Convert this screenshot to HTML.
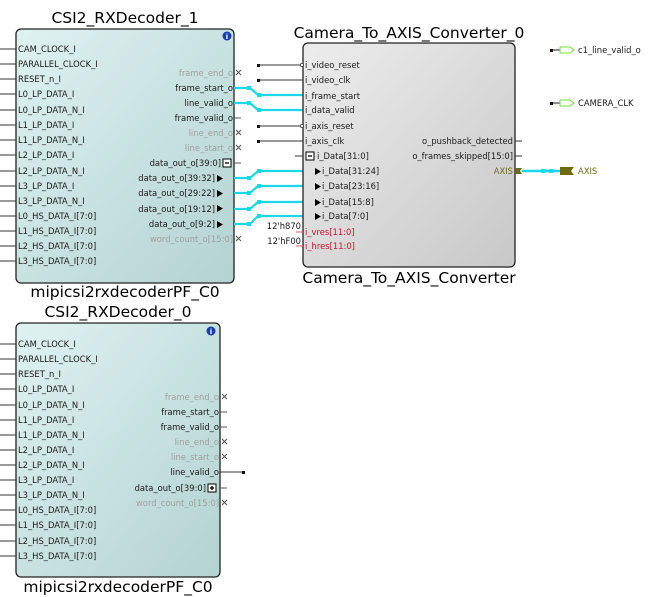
<!DOCTYPE html>
<html><head><style>
html,body{margin:0;padding:0;background:#fff;}
svg{display:block;}
text{font-family:"DejaVu Sans","Liberation Sans",sans-serif;font-size:8.4px;fill:#1a1a1a;}
.t{font-family:"DejaVu Sans","Liberation Sans",sans-serif;font-size:15.5px;fill:#000;}
.g{fill:#a0a0a0;}
.r{fill:#c8102e;}
</style></head><body>
<svg width="655" height="597" viewBox="0 0 655 597" xmlns="http://www.w3.org/2000/svg">
<defs>
<linearGradient id="gb" x1="0" y1="0" x2="1" y2="1"><stop offset="0" stop-color="#dff2f2"/><stop offset="1" stop-color="#b3d3d0"/></linearGradient>
<linearGradient id="gg" x1="0" y1="0" x2="1" y2="1"><stop offset="0" stop-color="#ededed"/><stop offset="1" stop-color="#c8c8c8"/></linearGradient>
</defs>

<!-- ===== Block 1 ===== -->
<text class="t" x="125" y="23" text-anchor="middle">CSI2_RXDecoder_1</text>
<rect x="16" y="29" width="218" height="254" rx="5" fill="url(#gb)" stroke="#222" stroke-width="1.3"/>
<circle cx="227" cy="36" r="4.5" fill="#1a3cb0"/><text x="227" y="39" text-anchor="middle" style="fill:#fff;font-size:7px;font-weight:bold">i</text>
<text class="t" x="125" y="297" text-anchor="middle">mipicsi2rxdecoderPF_C0</text>
<g stroke="#333" stroke-width="1">
<line x1="0" y1="49" x2="16" y2="49"/><line x1="0" y1="64" x2="16" y2="64"/><line x1="0" y1="79" x2="16" y2="79"/><line x1="0" y1="94" x2="16" y2="94"/><line x1="0" y1="110" x2="16" y2="110"/><line x1="0" y1="125" x2="16" y2="125"/><line x1="0" y1="140" x2="16" y2="140"/><line x1="0" y1="155" x2="16" y2="155"/><line x1="0" y1="171" x2="16" y2="171"/><line x1="0" y1="186" x2="16" y2="186"/><line x1="0" y1="201" x2="16" y2="201"/><line x1="0" y1="216" x2="16" y2="216"/><line x1="0" y1="231" x2="16" y2="231"/><line x1="0" y1="246" x2="16" y2="246"/><line x1="0" y1="261" x2="16" y2="261"/>
</g>
<g>
<text x="18" y="52">CAM_CLOCK_I</text><text x="18" y="67">PARALLEL_CLOCK_I</text><text x="18" y="82">RESET_n_I</text><text x="18" y="97">L0_LP_DATA_I</text><text x="18" y="113">L0_LP_DATA_N_I</text><text x="18" y="128">L1_LP_DATA_I</text><text x="18" y="143">L1_LP_DATA_N_I</text><text x="18" y="158">L2_LP_DATA_I</text><text x="18" y="174">L2_LP_DATA_N_I</text><text x="18" y="189">L3_LP_DATA_I</text><text x="18" y="204">L3_LP_DATA_N_I</text><text x="18" y="219">L0_HS_DATA_I[7:0]</text><text x="18" y="234">L1_HS_DATA_I[7:0]</text><text x="18" y="249">L2_HS_DATA_I[7:0]</text><text x="18" y="264">L3_HS_DATA_I[7:0]</text>
</g>
<g text-anchor="end">
<text class="g" x="233" y="76">frame_end_o</text>
<text x="233" y="91">frame_start_o</text>
<text x="233" y="106">line_valid_o</text>
<text x="233" y="121">frame_valid_o</text>
<text class="g" x="233" y="136">line_end_o</text>
<text class="g" x="233" y="151">line_start_o</text>
<text x="221" y="166">data_out_o[39:0]</text>
<text x="215" y="181">data_out_o[39:32]</text>
<text x="215" y="196">data_out_o[29:22]</text>
<text x="215" y="212">data_out_o[19:12]</text>
<text x="215" y="227">data_out_o[9:2]</text>
<text class="g" x="233" y="242">word_count_o[15:0]</text>
</g>
<rect x="223" y="159" width="8" height="8" fill="#fff" stroke="#000"/><line x1="225" y1="163" x2="229" y2="163" stroke="#000" stroke-width="1.3"/>
<g fill="#000"><path d="M217 175l6 3.5-6 3.5z"/><path d="M217 190l6 3.5-6 3.5z"/><path d="M217 205l6 3.5-6 3.5z"/><path d="M217 221l6 3.5-6 3.5z"/></g>
<g stroke="#555" stroke-width="1">
<path d="M236 70l5 5M241 70l-5 5"/><path d="M236 130l5 5M241 130l-5 5"/><path d="M236 145l5 5M241 145l-5 5"/><path d="M236 236l5 5M241 236l-5 5"/>
<line x1="234" y1="118" x2="241" y2="118"/><line x1="234" y1="163" x2="241" y2="163"/>
</g>
<!-- cyan nets -->
<g stroke="#19d8e8" stroke-width="2.2" fill="none">
<path d="M234 88H250L258 95H303"/><path d="M234 103H250L258 110H303"/>
<path d="M234 178H250L258 171H303"/><path d="M234 193H250L258 186H303"/><path d="M234 209H250L258 202H303"/><path d="M234 224H250L258 216H303"/>
</g>
<g fill="#19d8e8">
<rect x="247" y="86" width="4" height="4"/><rect x="257" y="93" width="4" height="4"/><rect x="247" y="101" width="4" height="4"/><rect x="257" y="108" width="4" height="4"/>
<rect x="247" y="176" width="4" height="4"/><rect x="257" y="169" width="4" height="4"/><rect x="247" y="191" width="4" height="4"/><rect x="257" y="184" width="4" height="4"/><rect x="247" y="207" width="4" height="4"/><rect x="257" y="200" width="4" height="4"/><rect x="247" y="222" width="4" height="4"/><rect x="257" y="214" width="4" height="4"/>
</g>

<!-- ===== Camera block ===== -->
<text class="t" x="409" y="38" text-anchor="middle">Camera_To_AXIS_Converter_0</text>
<rect x="303" y="43" width="212" height="224" rx="5" fill="url(#gg)" stroke="#222" stroke-width="1.3"/>
<text class="t" x="409" y="283" text-anchor="middle">Camera_To_AXIS_Converter</text>
<g stroke="#333" stroke-width="1">
<line x1="258" y1="65" x2="301" y2="65"/><line x1="258" y1="80" x2="303" y2="80"/><line x1="258" y1="126" x2="301" y2="126"/><line x1="258" y1="141" x2="303" y2="141"/><line x1="295" y1="156" x2="303" y2="156"/>
<line x1="515" y1="141" x2="522" y2="141"/><line x1="515" y1="156" x2="522" y2="156"/>
</g>
<circle cx="302" cy="65" r="1.6" fill="#fff" stroke="#333" stroke-width=".8"/><circle cx="302" cy="126" r="1.6" fill="#fff" stroke="#333" stroke-width=".8"/>
<g fill="#111"><rect x="257" y="64" width="3" height="3"/><rect x="257" y="79" width="3" height="3"/><rect x="257" y="125" width="3" height="3"/><rect x="257" y="140" width="3" height="3"/></g>
<g stroke="#e05a6a" stroke-width="1"><line x1="296" y1="232" x2="303" y2="232"/><line x1="296" y1="246" x2="303" y2="246"/></g>
<g>
<text x="305" y="68">i_video_reset</text><text x="305" y="83">i_video_clk</text><text x="305" y="99">i_frame_start</text><text x="305" y="113">i_data_valid</text><text x="305" y="129">i_axis_reset</text><text x="305" y="144">i_axis_clk</text>
<text x="317" y="159">i_Data[31:0]</text><text x="322" y="174">i_Data[31:24]</text><text x="322" y="189">i_Data[23:16]</text><text x="322" y="205">i_Data[15:8]</text><text x="322" y="219">i_Data[7:0]</text>
<text class="r" x="305" y="235">i_vres[11:0]</text><text class="r" x="305" y="249">i_hres[11:0]</text>
<text x="301" y="229" text-anchor="end">12'h870</text><text x="301" y="244" text-anchor="end">12'hF00</text>
</g>
<rect x="306" y="152" width="8" height="8" fill="#fff" stroke="#000"/><line x1="308" y1="156" x2="312" y2="156" stroke="#000" stroke-width="1.3"/>
<g fill="#000"><path d="M315 168l6 3.5-6 3.5z"/><path d="M315 183l6 3.5-6 3.5z"/><path d="M315 199l6 3.5-6 3.5z"/><path d="M315 213l6 3.5-6 3.5z"/></g>
<g text-anchor="end">
<text x="513" y="144">o_pushback_detected</text><text x="513" y="159">o_frames_skipped[15:0]</text><text x="513" y="174" style="fill:#6e6a10">AXIS</text>
</g>
<path d="M515 168h7l-2 3 2 3h-7z" fill="#6e6a10"/>
<line x1="522" y1="171" x2="560" y2="171" stroke="#19d8e8" stroke-width="2.5"/>
<rect x="541" y="169" width="4" height="4" fill="#19d8e8"/><rect x="549" y="169" width="4" height="4" fill="#19d8e8"/>
<path d="M560 167h14l-3 4 3 4h-14z" fill="#6e6a10"/>
<text x="578" y="174" style="fill:#6e6a10">AXIS</text>
<!-- output ports -->
<g stroke="#222"><line x1="551" y1="50" x2="560" y2="50"/><line x1="551" y1="103" x2="560" y2="103"/></g>
<rect x="550" y="49" width="3" height="3" fill="#111"/><rect x="550" y="102" width="3" height="3" fill="#111"/>
<path d="M560 47h10l4 3-4 3h-10z" fill="none" stroke="#6ee03a" stroke-width="1"/>
<path d="M560 100h10l4 3-4 3h-10z" fill="none" stroke="#6ee03a" stroke-width="1"/>
<text x="578" y="53">c1_line_valid_o</text><text x="578" y="106">CAMERA_CLK</text>

<!-- ===== Block 0 ===== -->
<text class="t" x="118" y="317" text-anchor="middle">CSI2_RXDecoder_0</text>
<rect x="16" y="323" width="204" height="254" rx="5" fill="url(#gb)" stroke="#222" stroke-width="1.3"/>
<circle cx="211" cy="331" r="4.5" fill="#1a3cb0"/><text x="211" y="334" text-anchor="middle" style="fill:#fff;font-size:7px;font-weight:bold">i</text>
<text class="t" x="118" y="592" text-anchor="middle">mipicsi2rxdecoderPF_C0</text>
<g stroke="#333" stroke-width="1">
<line x1="0" y1="344" x2="16" y2="344"/><line x1="0" y1="359" x2="16" y2="359"/><line x1="0" y1="374" x2="16" y2="374"/><line x1="0" y1="389" x2="16" y2="389"/><line x1="0" y1="405" x2="16" y2="405"/><line x1="0" y1="420" x2="16" y2="420"/><line x1="0" y1="435" x2="16" y2="435"/><line x1="0" y1="450" x2="16" y2="450"/><line x1="0" y1="465" x2="16" y2="465"/><line x1="0" y1="480" x2="16" y2="480"/><line x1="0" y1="495" x2="16" y2="495"/><line x1="0" y1="510" x2="16" y2="510"/><line x1="0" y1="525" x2="16" y2="525"/><line x1="0" y1="541" x2="16" y2="541"/><line x1="0" y1="556" x2="16" y2="556"/>
</g>
<g>
<text x="18" y="347">CAM_CLOCK_I</text><text x="18" y="362">PARALLEL_CLOCK_I</text><text x="18" y="377">RESET_n_I</text><text x="18" y="392">L0_LP_DATA_I</text><text x="18" y="408">L0_LP_DATA_N_I</text><text x="18" y="423">L1_LP_DATA_I</text><text x="18" y="438">L1_LP_DATA_N_I</text><text x="18" y="453">L2_LP_DATA_I</text><text x="18" y="468">L2_LP_DATA_N_I</text><text x="18" y="483">L3_LP_DATA_I</text><text x="18" y="498">L3_LP_DATA_N_I</text><text x="18" y="513">L0_HS_DATA_I[7:0]</text><text x="18" y="528">L1_HS_DATA_I[7:0]</text><text x="18" y="544">L2_HS_DATA_I[7:0]</text><text x="18" y="559">L3_HS_DATA_I[7:0]</text>
</g>
<g text-anchor="end">
<text class="g" x="219" y="400">frame_end_o</text>
<text x="219" y="415">frame_start_o</text>
<text x="219" y="430">frame_valid_o</text>
<text class="g" x="219" y="445">line_end_o</text>
<text class="g" x="219" y="460">line_start_o</text>
<text x="219" y="475">line_valid_o</text>
<text x="206" y="491">data_out_o[39:0]</text>
<text class="g" x="219" y="506">word_count_o[15:0]</text>
</g>
<rect x="208" y="484" width="8" height="8" fill="#fff" stroke="#000"/><path d="M210 488h4M212 486v4" stroke="#000" stroke-width="1.3"/>
<g stroke="#555" stroke-width="1">
<path d="M222 394l5 5M227 394l-5 5"/><path d="M222 439l5 5M227 439l-5 5"/><path d="M222 454l5 5M227 454l-5 5"/><path d="M222 500l5 5M227 500l-5 5"/>
<line x1="220" y1="412" x2="227" y2="412"/><line x1="220" y1="427" x2="227" y2="427"/><line x1="220" y1="488" x2="227" y2="488"/>
<line x1="220" y1="472" x2="243" y2="472" stroke="#333"/>
</g>
<rect x="242" y="471" width="3" height="3" fill="#111"/>
</svg>
</body></html>
